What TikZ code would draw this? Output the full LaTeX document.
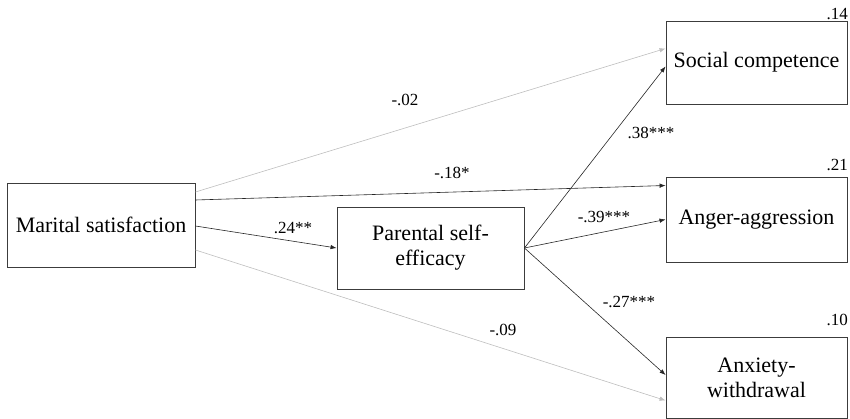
\documentclass[tikz,border=0pt]{standalone}
\usepackage{fontspec}
\setmainfont{Liberation Serif}
\usetikzlibrary{arrows.meta}
\definecolor{lightarr}{RGB}{190,190,190}
\definecolor{boxline}{RGB}{60,60,60}
\begin{document}
\begin{tikzpicture}[x=1pt,y=-1pt,
  box/.style={draw=boxline,line width=0.9pt,fill=white,inner sep=2pt,align=center,font=\fontsize{22}{25}\selectfont},
  arr/.style={line width=0.6pt,draw=black!85,-{Latex[length=6pt,width=4.5pt]}},
  garr/.style={line width=0.6pt,draw=lightarr,-{Latex[length=6pt,width=4.5pt]}},
  lbl/.style={font=\fontsize{17}{19}\selectfont,inner sep=0pt},
  rsq/.style={font=\fontsize{17}{19}\selectfont,inner sep=0pt,anchor=east}]
\useasboundingbox (0,0) rectangle (850,419);
\node[box,minimum width=188pt,minimum height=84pt] (m) at (101,225) {Marital satisfaction};
\node[box,minimum width=187pt,minimum height=82pt] (p) at (430.5,248) {Parental self-\\efficacy};
\node[box,minimum width=181pt,minimum height=83pt] (s) at (756.5,62.5) {Social competence};
\node[box,minimum width=181pt,minimum height=85pt] (a) at (756.5,219.5) {Anger-aggression};
\node[box,minimum width=181pt,minimum height=81pt] (x) at (756.5,377.5) {Anxiety-\\withdrawal};
\node[rsq] (r1) at (848,14) {.14};
\node[rsq] (r2) at (848,165) {.21};
\node[rsq] (r3) at (848,320) {.10};
\draw[garr] ([yshift=33pt]m.east) -- ([yshift=14pt]s.west);
\draw[arr] ([yshift=25pt]m.east) -- ([yshift=34pt]a.west);
\draw[arr] ([yshift=-1pt]m.east) -- (p.west);
\draw[garr] ([yshift=-25pt]m.east) -- ([yshift=-23pt]x.west);
\draw[arr] (p.east) -- ([yshift=-4pt]s.west);
\draw[arr] (p.east) -- (a.west);
\draw[arr] (p.east) -- ([yshift=2.5pt]x.west);
\node[lbl] (l1) at (405,100) {-.02};
\node[lbl] (l2) at (452,173) {-.18*};
\node[lbl] (l3) at (293,228) {.24**};
\node[lbl] (l4) at (651,133) {.38***};
\node[lbl] (l5) at (604,217) {-.39***};
\node[lbl] (l6) at (629,302) {-.27***};
\node[lbl] (l7) at (503,330) {-.09};
\end{tikzpicture}
\end{document}
